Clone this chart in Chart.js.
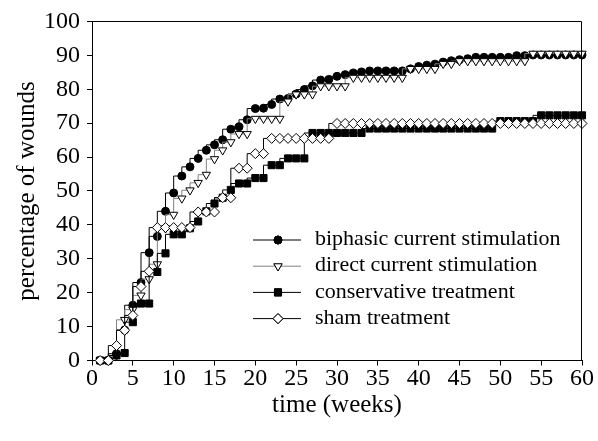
<!DOCTYPE html>
<html>
<head>
<meta charset="utf-8">
<script src="https://cdn.jsdelivr.net/npm/chart.js@4.4.0/dist/chart.umd.min.js"></script>
<style>
  body { margin: 0; background: #fff; font-family: 'Liberation Serif', serif; }
  #probe { position: absolute; left: -999px; top: 0; font-family: 'Liberation Serif'; }
</style>
</head>
<body>
<span id="probe">time 0123456789</span>
<canvas id="myChart" width="598" height="441"></canvas>
<script>
var weeks = [1,2,3,4,5,6,7,8,9,10,
  11,12,13,14,15,16,17,18,19,20,
  21,22,23,24,25,26,27,28,29,30,
  31,32,33,34,35,36,37,38,39,40,
  41,42,43,44,45,46,47,48,49,50,
  51,52,53,54,55,56,57,58,59,60];

var biphasic = [0,0,2,9,16.3,23,31.8,36.6,44,49.4,
  54.4,57.1,59.6,62,63.6,65.1,68.2,68.9,71,74.3,
  74.4,75.5,77.1,77.3,78.6,79.9,81,82.7,82.9,83.8,
  84.3,84.8,85.1,85.4,85.4,85.4,85.4,85.4,86,86.7,
  87.1,87.4,88,88.4,88.7,89,89.4,89.4,89.4,89.4,
  89.4,89.9,89.9,90.1,90.1,90.1,90.1,90.1,90.1,90.1];

var directCurrent = [0,0,1.5,12,15,19.2,24,28.4,39,43,
  47.8,50.2,52.4,54.8,59.4,62,64.4,66.8,66.8,71.3,
  71.3,71.3,71.3,76.4,78.5,78.5,78.5,80.9,80.9,80.9,
  80.9,83.4,83.4,83.4,83.4,83.4,83.4,83.4,86,86,
  86,86,87.5,87.5,88.3,88.3,88.3,88.3,88.3,88.3,
  88.3,88.3,88.3,90.5,90.5,90.5,90.5,90.5,90.5,90.5];

var conservative = [0,0,1.5,2.2,11.3,16.8,16.8,26.1,31.6,37.2,
  37.2,39,41,44,46.3,48,50.3,52.2,52.2,53.8,
  53.8,57.6,57.6,59.6,59.6,59.6,67.1,67.1,67.1,67.1,
  67.1,67.1,67.1,68.4,68.4,68.4,68.4,68.4,68.4,68.4,
  68.4,68.4,68.4,68.4,68.4,68.4,68.4,68.4,68.4,70.6,
  70.6,70.6,70.6,70.6,72.3,72.3,72.3,72.3,72.3,72.3];

var sham = [0,0,4.4,8.9,13.3,21.8,26.3,39.2,39.2,39.2,
  39.2,39.2,43.8,43.8,43.8,48,48,56.7,56.7,61,
  61,65.5,65.5,65.5,65.5,65.5,65.5,65.5,65.5,69.9,
  69.9,69.9,69.9,69.9,69.9,69.9,69.9,69.9,69.9,69.9,
  69.9,69.9,69.9,69.9,69.9,69.9,69.9,69.9,69.9,69.9,
  69.9,69.9,69.9,69.9,69.9,69.9,69.9,69.9,69.9,69.9];

var seriesNames = ['biphasic current stimulation', 'direct current stimulation', 'conservative treatment', 'sham treatment'];
var xTicks = [0,5,10,15,20,25,30,35,40,45,50,55,60];
var yTicks = [0,10,20,30,40,50,60,70,80,90,100];

var serif = "'Liberation Serif', 'Times New Roman', Times, serif";

function toPoints(values){
  return weeks.map(function(w, i){ return {x: w, y: values[i]}; });
}

function makeSet(i, values, style, fill, line, radius, rot, order){
  return {
    label: seriesNames[i],
    data: toPoints(values),
    stepped: 'after',
    borderColor: line,
    borderWidth: 1,
    pointStyle: style,
    pointRotation: rot,
    pointRadius: radius,
    pointHoverRadius: radius,
    pointBackgroundColor: fill,
    pointBorderColor: '#000',
    pointBorderWidth: 1,
    fill: false,
    clip: false,
    order: order
  };
}

// legend sits inside the plot, plus top/right frame
var legendBox = {
  id: 'legendBox',
  afterDraw: function(chart){
    var ctx = chart.ctx;
    var a = chart.chartArea;
    ctx.save();
    ctx.strokeStyle = '#000';
    ctx.lineWidth = 1;
    ctx.beginPath();
    ctx.moveTo(a.left, Math.round(a.top) + 0.5);
    ctx.lineTo(Math.round(a.right) - 0.5, Math.round(a.top) + 0.5);
    ctx.lineTo(Math.round(a.right) - 0.5, a.bottom);
    ctx.stroke();

    ctx.font = '22px ' + serif;
    ctx.textBaseline = 'middle';
    ctx.fillStyle = '#000';
    chart.data.datasets.forEach(function(ds, i){
      var y = 239.5 + i * 26.2;
      ctx.strokeStyle = ds.borderColor;
      ctx.beginPath();
      ctx.moveTo(253, y + 0.5);
      ctx.lineTo(301, y + 0.5);
      ctx.stroke();
      Chart.helpers.drawPoint(ctx, {
        pointStyle: ds.pointStyle,
        rotation: ds.pointRotation,
        radius: ds.pointRadius,
        borderWidth: 1
      }, 278, y + 0.5);
      ctx.fillStyle = ds.pointBackgroundColor;
      ctx.strokeStyle = '#000';
      ctx.fill();
      ctx.stroke();
      ctx.fillStyle = '#000';
      ctx.fillText(ds.label, 315, y);
    });
    ctx.restore();
  }
};

function init(){
  var ctx = document.getElementById('myChart').getContext('2d');
  var myChart = new Chart(ctx, {
    type: 'line',
    data: {
      datasets: [
        makeSet(0, biphasic, 'circle', '#000', '#000', 4, 0, 4),
        makeSet(1, directCurrent, 'triangle', '#fff', '#808080', 4.8, 180, 3),
        makeSet(2, conservative, 'rect', '#000', '#000', 5, 0, 2),
        makeSet(3, sham, 'rectRot', '#fff', '#000', 5, 0, 1)
      ]
    },
    options: {
      responsive: false,
      animation: false,
      layout: { padding: { top: 19, right: 16, left: 0, bottom: 0 } },
      plugins: { legend: { display: false }, tooltip: { enabled: false } },
      scales: {
        x: {
          type: 'linear',
          min: 0,
          max: 60,
          afterBuildTicks: function(scale){ scale.ticks = xTicks.map(function(v){ return {value: v}; }); },
          afterFit: function(scale){ scale.height = 80.5; },
          grid: { drawOnChartArea: false, color: '#000', tickLength: 5 },
          border: { color: '#000', width: 1 },
          ticks: { color: '#000', padding: -1, maxRotation: 0, font: { family: serif, size: 24 } },
          title: { display: true, text: 'time (weeks)', color: '#000', padding: { top: 0, bottom: 21 }, font: { family: serif, size: 25 } }
        },
        y: {
          min: 0,
          max: 100,
          afterBuildTicks: function(scale){ scale.ticks = yTicks.map(function(v){ return {value: v}; }); },
          afterFit: function(scale){ scale.width = 92; },
          grid: { drawOnChartArea: false, color: '#000', tickLength: 5 },
          border: { color: '#000', width: 1 },
          ticks: { color: '#000', padding: 7, font: { family: serif, size: 24 } },
          title: { display: true, text: 'percentage of wounds', color: '#000', padding: { top: 12, bottom: 0 }, font: { family: serif, size: 25 } }
        }
      }
    },
    plugins: [legendBox]
  });
}

if (document.fonts && document.fonts.load) {
  Promise.all([
    document.fonts.load('24px "Liberation Serif"'),
    document.fonts.load('24px "Times New Roman"')
  ]).then(init, init);
} else {
  init();
}
</script>
</body>
</html>
